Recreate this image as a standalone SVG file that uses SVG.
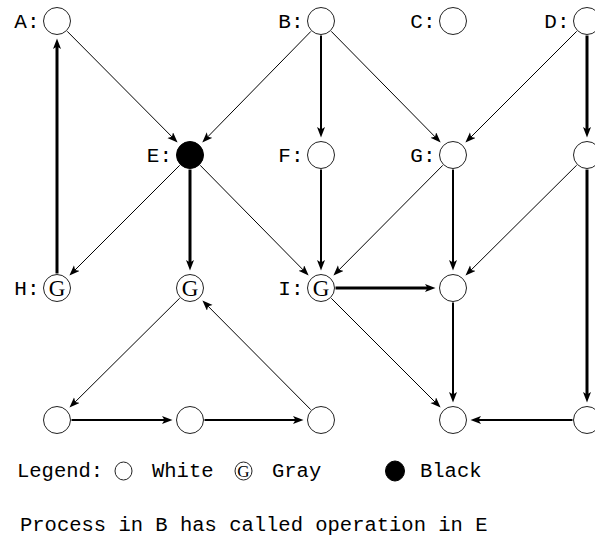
<svg xmlns="http://www.w3.org/2000/svg" width="595" height="539" viewBox="0 0 595 539">
  <style>
    .node { fill: #fff; stroke: #222; stroke-width: 1; }
    .black { fill: #000; stroke: #000; stroke-width: 1; }
    .lbl { font-family: "Liberation Mono", "DejaVu Sans Mono", monospace; font-size: 21px; fill: #000; text-anchor: end; }
    .txt { font-family: "Liberation Mono", "DejaVu Sans Mono", monospace; font-size: 20.5px; fill: #000; }
    .g { font-family: "Liberation Serif", "DejaVu Serif", serif; font-size: 23px; fill: #000; text-anchor: middle; }
    .gs { font-family: "Liberation Serif", "DejaVu Serif", serif; font-size: 17px; fill: #000; text-anchor: middle; }
    .e { fill: none; stroke: #000; marker-end: url(#arrow); }
    .w1 { stroke-width: 1; }
    .w2 { stroke-width: 2; }
    .w3 { stroke-width: 3; }
  </style>
  <defs>
    <marker id="arrow" markerUnits="userSpaceOnUse" markerWidth="11" markerHeight="9" viewBox="0 0 11 9" refX="3" refY="4" orient="auto">
      <path d="M0,0 L10.5,4 L0,8 L2.5,4 Z" fill="#000"/>
    </marker>
  </defs>

  <rect width="595" height="539" fill="#fff"/>

  <!-- connectors -->
  <g id="edges">
    <line class="e w1" x1="67.2" y1="31.3" x2="172.3" y2="137.2"/>
    <line class="e w3" x1="57" y1="273.5" x2="57" y2="46"/>
    <line class="e w1" x1="310.9" y1="31.4" x2="207.5" y2="137.1"/>
    <line class="e w2" x1="321" y1="35.5" x2="321" y2="130"/>
    <line class="e w1" x1="331.2" y1="31.3" x2="435.4" y2="137.2"/>
    <line class="e w1" x1="576.7" y1="31.3" x2="470.7" y2="137.3"/>
    <line class="e w3" x1="587" y1="35.5" x2="587" y2="130"/>
    <line class="e w1" x1="179.7" y1="165.3" x2="74.7" y2="270.3"/>
    <line class="e w3" x1="190" y1="169.5" x2="190" y2="263"/>
    <line class="e w1" x1="200.2" y1="165.3" x2="303.4" y2="270.2"/>
    <line class="e w2" x1="321" y1="169.5" x2="321" y2="263"/>
    <line class="e w1" x1="442.8" y1="165.3" x2="338.7" y2="270.2"/>
    <line class="e w2" x1="453" y1="169.5" x2="453" y2="263"/>
    <line class="e w1" x1="576.7" y1="165.2" x2="470.8" y2="270.3"/>
    <line class="e w3" x1="587" y1="169.5" x2="587" y2="395"/>
    <line class="e w3" x1="335.5" y1="288" x2="428" y2="288"/>
    <line class="e w1" x1="331.3" y1="298.3" x2="435.3" y2="402.3"/>
    <line class="e w2" x1="453" y1="302.5" x2="453" y2="395"/>
    <line class="e w2" x1="572.5" y1="420" x2="478" y2="420"/>
    <line class="e w1" x1="179.7" y1="298.2" x2="74.8" y2="402.3"/>
    <line class="e w2" x1="71.5" y1="420" x2="165" y2="420"/>
    <line class="e w2" x1="204.5" y1="420" x2="296" y2="420"/>
    <line class="e w1" x1="310.8" y1="409.7" x2="207.7" y2="305.8"/>
  </g>

  <!-- top row -->
  <g id="A"><circle class="node" cx="57" cy="21" r="13.5"/><text class="lbl" x="39.5" y="28">A:</text></g>
  <g id="B"><circle class="node" cx="321" cy="21" r="13.5"/><text class="lbl" x="303.5" y="28">B:</text></g>
  <g id="C"><circle class="node" cx="453" cy="21" r="13.5"/><text class="lbl" x="435.5" y="28">C:</text></g>
  <g id="D"><circle class="node" cx="587" cy="21" r="13.5"/><text class="lbl" x="569.5" y="28">D:</text></g>

  <!-- second row -->
  <g id="E"><circle class="black" cx="190" cy="155" r="13.5"/><text class="lbl" x="172" y="162">E:</text></g>
  <g id="F"><circle class="node" cx="321" cy="155" r="13.5"/><text class="lbl" x="303.5" y="162">F:</text></g>
  <g id="G"><circle class="node" cx="453" cy="155" r="13.5"/><text class="lbl" x="435.5" y="162">G:</text></g>
  <g id="R1"><circle class="node" cx="587" cy="155" r="13.5"/></g>

  <!-- third row -->
  <g id="H"><circle class="node" cx="57" cy="288" r="13.5"/><text class="g" x="57" y="296">G</text><text class="lbl" x="39.5" y="295">H:</text></g>
  <g id="M"><circle class="node" cx="190" cy="288" r="13.5"/><text class="g" x="190" y="296">G</text></g>
  <g id="I"><circle class="node" cx="321" cy="288" r="13.5"/><text class="g" x="321" y="296">G</text><text class="lbl" x="303.5" y="295">I:</text></g>
  <g id="J"><circle class="node" cx="453" cy="288" r="13.5"/></g>

  <!-- bottom row -->
  <g id="K1"><circle class="node" cx="57" cy="420" r="13.5"/></g>
  <g id="K2"><circle class="node" cx="190" cy="420" r="13.5"/></g>
  <g id="K3"><circle class="node" cx="321" cy="420" r="13.5"/></g>
  <g id="K"><circle class="node" cx="453" cy="420" r="13.5"/></g>
  <g id="R3"><circle class="node" cx="587" cy="420" r="13.5"/></g>

  <!-- legend -->
  <g id="legend">
    <text class="txt" x="17" y="477">Legend:</text>
    <ellipse class="node" cx="123.5" cy="471" rx="8.5" ry="9"/>
    <text class="txt" x="152" y="477">White</text>
    <ellipse class="node" cx="243.5" cy="471" rx="8.5" ry="9"/>
    <text class="gs" x="243.5" y="477">G</text>
    <text class="txt" x="272" y="477">Gray</text>
    <ellipse class="black" cx="395" cy="471" rx="9.5" ry="10"/>
    <text class="txt" x="420" y="477">Black</text>
  </g>
  <text class="txt" x="20" y="531">Process in B has called operation in E</text>
</svg>
